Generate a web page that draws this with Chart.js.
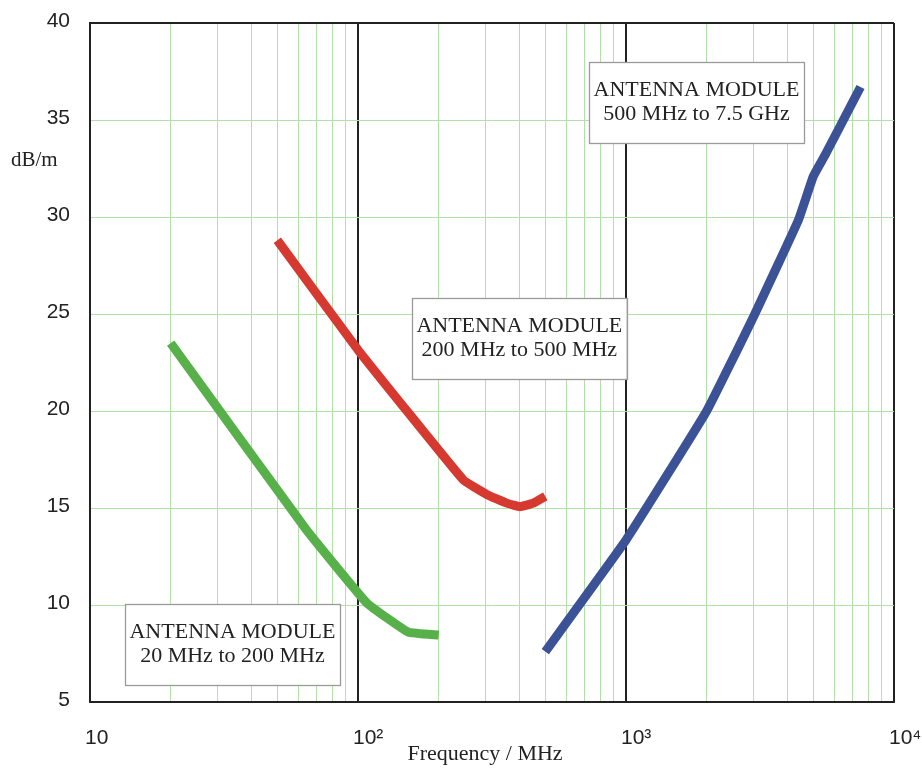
<!DOCTYPE html>
<html>
<head>
<meta charset="utf-8">
<script src="https://cdn.jsdelivr.net/npm/chart.js@4.4.1/dist/chart.umd.min.js"></script>
<style>
  html, body { margin: 0; padding: 0; background: #fff; }
  canvas { display: block; }
</style>
</head>
<body>
<canvas id="grafico" width="922" height="770"></canvas>
<script>
// dados
const freqVerde = [20, 64, 108, 154, 200];
const ganhoVerde = [23.5, 13.9, 10.1, 8.6, 8.45];

const freqVermelho = [50, 100, 247, 302, 359, 402, 451, 500];
const ganhoVermelho = [28.8, 23.15, 16.45, 15.7, 15.25, 15.07, 15.25, 15.6];

const freqAzul = [500, 1000, 2000, 3000, 4400, 5000, 5535, 7500];
const ganhoAzul = [7.6, 13.35, 20.0, 24.9, 29.85, 32.1, 33.2, 36.7];

const decadas = [10, 100, 1000, 10000];
const rotulosDecadas = ["10", "10\u00b2", "10\u00b3", "10\u2074"];
const ticksY = [5, 10, 15, 20, 25, 30, 35, 40];

const caixas = [
  { linhas: ["ANTENNA MODULE", "20 MHz to 200 MHz"], freq: 34, ganho: 7.96 },
  { linhas: ["ANTENNA MODULE", "200 MHz to 500 MHz"], freq: 400, ganho: 23.74 },
  { linhas: ["ANTENNA MODULE", "500 MHz to 7.5 GHz"], freq: 1833, ganho: 35.9 }
];

const VERDE_GRADE = "#b3dfa9";
const PRETO = "#222";
const SERIF = "'Liberation Serif', 'Times New Roman', serif";
const SANS = "'Liberation Sans', Arial, sans-serif";

function pontos(xs, ys) {
  return xs.map((x, i) => ({ x, y: ys[i] }));
}

function ehDecada(v) {
  const l = Math.log10(v);
  return Math.abs(l - Math.round(l)) < 1e-9;
}

function ehBorda(v) {
  return v === ticksY[0] || v === ticksY[ticksY.length - 1];
}

// linhas de grade do eixo x: 1..9 em cada década
const gradeX = [];
for (let d = 0; d < decadas.length - 1; d++) {
  for (let m = 1; m <= 9; m++) gradeX.push(decadas[d] * m);
}
gradeX.push(decadas[decadas.length - 1]);

const pluginTextos = {
  id: "textos",
  afterDatasetsDraw(chart) {
    const { ctx, scales } = chart;
    ctx.save();
    ctx.font = "22px " + SERIF;
    ctx.textAlign = "center";
    ctx.textBaseline = "middle";
    caixas.forEach(c => {
      const cx = scales.x.getPixelForValue(c.freq);
      const cy = scales.y.getPixelForValue(c.ganho);
      const w = 215, h = 81;
      ctx.fillStyle = "#fff";
      ctx.fillRect(cx - w / 2, cy - h / 2, w, h);
      ctx.strokeStyle = "#9a9a9a";
      ctx.lineWidth = 1.3;
      ctx.strokeRect(Math.round(cx - w / 2) + 0.5, Math.round(cy - h / 2) + 0.5, w, h);
      ctx.fillStyle = PRETO;
      ctx.fillText(c.linhas[0], cx, cy - 12);
      ctx.fillText(c.linhas[1], cx, cy + 12);
    });
    ctx.restore();
  },
  afterDraw(chart) {
    const { ctx } = chart;
    ctx.save();
    ctx.fillStyle = PRETO;
    ctx.textBaseline = "middle";
    ctx.font = "21px " + SERIF;
    ctx.textAlign = "left";
    ctx.fillText("dB/m", 11, 160);
    ctx.font = "22px " + SERIF;
    ctx.textAlign = "center";
    ctx.fillText("Frequency / MHz", 485, 754);
    ctx.restore();
  }
};

const serie = (xs, ys, cor) => ({
  data: pontos(xs, ys),
  borderColor: cor,
  backgroundColor: cor,
  borderWidth: 9,
  borderCapStyle: "butt",
  borderJoinStyle: "round",
  pointRadius: 0,
  tension: 0.1,
  fill: false
});

new Chart(document.getElementById("grafico"), {
  type: "line",
  data: {
    datasets: [
      serie(freqVerde, ganhoVerde, "#58b04a"),
      serie(freqVermelho, ganhoVermelho, "#d6392f"),
      serie(freqAzul, ganhoAzul, "#3b5296")
    ]
  },
  options: {
    responsive: false,
    animation: false,
    layout: { padding: { top: 23, right: 28, bottom: 0, left: 0 } },
    plugins: {
      legend: { display: false },
      tooltip: { enabled: false }
    },
    scales: {
      x: {
        type: "logarithmic",
        min: decadas[0],
        max: decadas[decadas.length - 1],
        afterBuildTicks: s => { s.ticks = gradeX.map(v => ({ value: v })); },
        afterFit: s => { s.height = 68; s.paddingLeft = 0; s.paddingRight = 0; },
        ticks: {
          autoSkip: false,
          maxRotation: 0,
          align: "start",
          labelOffset: -5,
          padding: 24,
          color: PRETO,
          font: { family: SANS, size: 21 },
          callback: v => {
            const i = decadas.findIndex(d => Math.abs(d - v) < 1e-6);
            return i >= 0 ? rotulosDecadas[i] : "";
          }
        },
        grid: {
          drawTicks: false,
          color: c => ehDecada(c.tick.value) ? PRETO : VERDE_GRADE,
          lineWidth: c => ehDecada(c.tick.value) ? 2 : 1
        },
        border: { color: PRETO, width: 2 }
      },
      y: {
        min: ticksY[0],
        max: ticksY[ticksY.length - 1],
        afterFit: s => { s.width = 90; s.paddingTop = 0; s.paddingBottom = 0; },
        ticks: {
          stepSize: 5,
          padding: 20,
          labelOffset: -2,
          color: PRETO,
          font: { family: SANS, size: 21 }
        },
        grid: {
          drawTicks: false,
          color: c => ehBorda(c.tick.value) ? PRETO : VERDE_GRADE,
          lineWidth: c => ehBorda(c.tick.value) ? 2 : 1
        },
        border: { color: PRETO, width: 2 }
      }
    }
  },
  plugins: [pluginTextos]
});
</script>
</body>
</html>
